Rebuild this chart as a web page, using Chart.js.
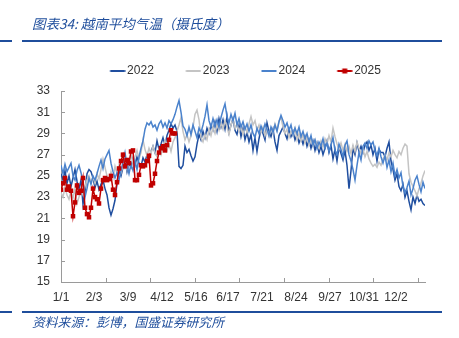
<!DOCTYPE html>
<html>
<head>
<meta charset="utf-8">
<script src="https://cdn.jsdelivr.net/npm/chart.js@4.4.0/dist/chart.umd.min.js"></script>
<style>
  html, body { margin: 0; padding: 0; background: #fff; }
  #wrap { position: relative; width: 459px; height: 338px; overflow: hidden; }
  #chart { position: absolute; left: 0; top: 0; }
  .txt { position: absolute; left: 32px; font-family: "Noto Sans CJK SC"; font-style: italic; color: #1f4e9c; white-space: nowrap; line-height: 16px; }
  #title { top: 15px; font-size: 13.5px; }
  #source { top: 314px; font-size: 12.8px; }
  .rule { position: absolute; height: 2px; background: #1f4e9c; }
</style>
</head>
<body>
<div id="wrap">
  <canvas id="chart" width="459" height="338"></canvas>
  <div id="title" class="txt">图表34: 越南平均气温（摄氏度）</div>
  <div class="rule" style="left:0;width:12px;top:40px"></div>
  <div class="rule" style="left:22px;width:420px;top:40px"></div>
  <div class="rule" style="left:0;width:12px;top:311px"></div>
  <div class="rule" style="left:22px;width:420px;top:311px"></div>
  <div id="source" class="txt">资料来源：彭博，国盛证券研究所</div>
</div>
<script>
// Dagsindeks fra 1/1, ét punkt hver 2. dag
const STEP = 2;
const tickDays = [0, 33, 67, 101, 135, 167, 201, 235, 269, 303, 335];
const tickLabels = ['1/1','2/3','3/9','4/12','5/16','6/17','7/21','8/24','9/27','10/31','12/2'];
const seriesNames = ['2022', '2023', '2024', '2025'];

// Gennemsnitstemperatur (°C)
const temp2022 = [
  25.2, 24.6, 25.5, 24.3, 25.0, 24.0, 24.8, 25.6, 24.5, 23.8, 24.6,
  22.3, 23.5, 25.2, 25.6, 25.4, 24.8, 23.9, 24.5, 23.7, 24.2,
  24.6, 23.8, 23.2, 22.0, 21.3, 21.9, 22.7, 24.3, 25.5, 25.0,
  25.8, 26.5, 25.4, 26.2, 25.8, 26.6, 26.0, 26.8, 26.2, 25.9,
  26.7, 26.3, 27.0, 26.4, 27.3, 27.8, 27.2, 28.3, 27.5, 28.0,
  28.6, 27.9, 28.8, 29.3, 29.9, 29.5, 29.8, 29.2, 25.9, 25.7,
  26.0, 27.8, 27.2, 27.5, 26.9, 26.4, 26.8, 28.0, 28.9, 28.4,
  29.2, 28.6, 29.5, 29.0, 29.8, 29.3, 30.1, 29.2, 30.4, 29.6,
  30.3, 29.4, 30.6, 29.1, 29.8, 30.4, 29.3, 28.9, 29.8, 28.7,
  29.5, 28.4, 29.1, 28.2, 28.9, 27.4, 28.6, 27.3, 28.5, 29.4,
  29.0, 28.4, 30.0, 29.2, 28.7, 29.4, 28.2, 27.4, 28.8, 29.2,
  29.6, 29.0, 28.5, 29.4, 28.7, 29.2, 28.4, 28.9, 28.1, 28.6,
  28.0, 28.7, 27.8, 28.4, 27.6, 28.3, 27.4, 28.1, 27.2, 27.8,
  27.0, 27.6, 28.3, 27.2, 27.9, 26.6, 27.5, 26.4, 27.7, 27.1,
  26.5, 27.4, 26.0, 23.8, 25.5, 27.6, 27.0, 28.1, 27.3, 27.8,
  27.2, 27.9, 28.2, 27.4, 27.9, 27.0, 27.6, 26.4, 27.5, 27.2,
  27.2, 26.8, 27.6, 28.2, 26.4, 25.6, 24.6, 25.2, 24.0, 23.6,
  24.2, 23.0, 23.6, 22.6, 21.8, 23.0, 22.4, 23.2, 22.6, 22.8, 22.4, 22.2
];
const temp2023 = [
  23.4, 23.0, 23.9, 23.2, 22.8, 23.6, 22.9, 23.8, 22.4, 23.0, 23.7,
  23.2, 24.0, 24.6, 25.0, 24.4, 24.9, 24.3, 25.2, 24.7, 25.6,
  26.6, 25.8, 25.0, 24.6, 25.4, 24.8, 25.9, 25.2, 26.0, 25.3,
  25.9, 26.4, 25.6, 26.3, 27.0, 26.2, 26.8, 27.4, 26.6, 27.2,
  28.4, 27.5, 26.9, 27.6, 27.1, 27.8, 27.2, 26.8, 27.5, 27.0,
  27.7, 28.3, 27.4, 28.0, 27.3, 28.2, 28.6, 29.2, 29.8, 30.5,
  29.2, 28.4, 28.9, 28.2, 28.8, 29.6, 30.8, 31.2, 30.3, 28.6,
  28.2, 28.9, 28.4, 29.4, 28.8, 29.6, 29.0, 29.8, 29.3, 30.0,
  29.4, 30.2, 29.6, 28.9, 29.8, 30.4, 29.5, 29.9, 29.2, 29.7,
  28.9, 29.6, 29.1, 29.9, 30.6, 29.8, 30.2, 29.3, 29.8, 29.1,
  29.6, 28.8, 29.4, 28.7, 29.5, 29.0, 29.9, 29.3, 30.2, 30.5,
  29.6, 29.0, 29.4, 28.6, 29.2, 28.8, 29.5, 28.4, 29.0, 28.3,
  28.9, 28.1, 28.7, 27.9, 28.5, 27.8, 28.4, 28.0, 27.6, 28.3,
  27.7, 28.5, 28.0, 28.8, 28.2, 29.5, 28.7, 28.0, 27.5, 28.1,
  27.4, 28.0, 27.3, 27.8, 27.1, 27.9, 27.3, 28.2, 27.6, 27.1,
  27.5, 26.8, 27.3, 26.6, 26.2, 25.9, 26.1, 25.8, 26.3, 26.0,
  26.6, 27.0, 26.5, 27.2, 26.8, 27.4, 27.0, 26.7, 27.3, 27.0,
  27.6, 28.0, 27.8, 25.2, 24.4, 24.0, 23.6, 23.1, 23.8, 24.3, 25.0, 25.5
];
const temp2024 = [
  26.0, 25.2, 26.1, 25.4, 25.8, 26.2, 25.0, 24.6, 25.5, 26.0, 25.3,
  24.4, 23.0, 23.8, 24.8, 24.2, 25.0, 24.6, 25.2, 25.9, 26.5,
  25.7, 26.6, 27.0, 27.4, 26.2, 25.4, 24.8, 25.3, 24.6, 25.5,
  26.3, 27.2, 26.0, 25.2, 26.1, 25.5, 26.4, 25.6, 26.8, 27.6,
  28.3, 29.4, 30.0, 29.8, 30.1, 29.6, 29.8, 29.3, 29.9, 30.2,
  29.6, 30.0, 29.5, 30.2, 29.9, 30.3, 30.8, 31.5, 32.1, 31.0,
  29.7, 29.4, 28.8, 29.6, 28.9, 29.8, 29.2, 28.6, 29.5, 29.1,
  29.8, 30.6, 31.7, 30.2, 29.6, 30.4, 29.7, 30.3, 29.6, 30.5,
  31.2, 31.8, 30.6, 30.0, 30.8, 30.2, 30.9, 29.8, 30.4, 29.6,
  30.1, 29.4, 29.9, 29.2, 29.8, 29.0, 28.6, 29.5, 29.0, 29.7,
  29.2, 29.9, 29.4, 28.8, 29.6, 29.1, 29.8, 29.2, 30.1, 30.7,
  30.2, 29.6, 30.0, 29.3, 29.8, 28.9, 29.5, 29.0, 29.6, 28.7,
  29.2, 28.5, 29.0, 28.2, 28.8, 27.9, 28.4, 27.6, 28.2, 27.8,
  28.5, 27.6, 28.1, 27.3, 27.9, 28.6, 27.4, 27.0, 28.0, 27.5,
  26.8, 27.9, 28.3, 27.0, 26.4, 25.6, 24.6, 26.0, 27.2, 26.5,
  27.8, 28.1, 27.6, 28.3, 27.9, 28.2, 27.4, 26.9, 27.6, 26.8,
  26.2, 26.9, 25.8, 26.5, 25.4, 26.2, 25.0, 25.6, 24.8, 25.3,
  24.0, 23.4, 23.9, 24.5, 23.2, 23.8, 24.6, 25.0, 24.2, 23.5, 24.4, 23.8
];
const temp2025 = [
  23.7, 24.3, 24.8, 23.7, 24.0, 23.6, 21.2, 22.5, 24.1, 23.4,
  23.6, 24.8, 22.0, 21.4, 21.1, 22.0, 23.8, 23.0, 22.8, 22.4,
  23.8, 24.6, 24.8, 24.6, 24.7, 25.0, 23.7, 23.2, 24.4, 25.7,
  26.4, 27.0, 25.9, 26.5, 26.2, 27.3, 27.4, 24.6, 24.6, 25.1,
  26.0, 25.9, 26.0, 26.4, 26.9, 24.1, 24.3, 25.2, 26.4, 27.2,
  27.6, 27.8, 27.4, 27.9, 28.4, 29.3, 29.0, 29.0
];

const colors = {
  y2022: '#1f4e9f',
  y2023: '#c4c4c4',
  y2024: '#4a82cc',
  y2025: '#c00000',
  axis: '#9a9a9a',
  text: '#333333'
};

const toPoints = arr => arr.map((v, i) => ({ x: i * STEP, y: v }));

// Lille ikon til legenden: linje (evt. med firkant)
function legendIcon(color, marker) {
  const c = document.createElement('canvas');
  c.width = 30; c.height = 10;
  const g = c.getContext('2d');
  g.strokeStyle = color; g.lineWidth = 2;
  g.beginPath(); g.moveTo(14.5, 5); g.lineTo(29.5, 5); g.stroke();
  if (marker) { g.fillStyle = color; g.fillRect(19.5, 2.5, 5, 5); }
  return c;
}

// Flyt legenden på plads efter layout
const legendNudge = {
  id: 'legendNudge',
  afterLayout(chart) {
    const l = chart.legend;
    l.left += 28; l.right += 28;
    l.top -= 4; l.bottom -= 4;
  }
};

// Indvendige akse-tickmarks som i Excel
const axisMarks = {
  id: 'axisMarks',
  beforeDatasetsDraw(chart) {
    const { ctx, scales: { x, y } } = chart;
    ctx.save();
    ctx.strokeStyle = colors.axis;
    ctx.lineWidth = 1;
    ctx.beginPath();
    for (let d = 0; d <= 364; d += 44.6) {
      const px = Math.round(x.getPixelForValue(d)) + 0.5;
      ctx.moveTo(px, y.bottom); ctx.lineTo(px, y.bottom - 4);
    }
    y.ticks.forEach(t => {
      const py = Math.round(y.getPixelForValue(t.value)) + 0.5;
      ctx.moveTo(x.left, py); ctx.lineTo(x.left + 4, py);
    });
    ctx.stroke();
    ctx.restore();
  }
};

const font = { family: 'Liberation Sans', size: 12 };

const ctx = document.getElementById('chart').getContext('2d');
const chart = new Chart(ctx, {
  type: 'line',
  data: {
    datasets: [
      { label: seriesNames[0], data: toPoints(temp2022), borderColor: colors.y2022, borderWidth: 1.5, pointRadius: 0, order: 4 },
      { label: seriesNames[1], data: toPoints(temp2023), borderColor: colors.y2023, borderWidth: 1.5, pointRadius: 0, order: 3 },
      { label: seriesNames[2], data: toPoints(temp2024), borderColor: colors.y2024, borderWidth: 1.5, pointRadius: 0, order: 2 },
      { label: seriesNames[3], data: toPoints(temp2025), borderColor: colors.y2025, backgroundColor: colors.y2025,
        borderWidth: 1.5, pointStyle: 'rect', pointRadius: 3.2, pointBorderWidth: 0, order: 1 }
    ]
  },
  options: {
    responsive: false,
    animation: false,
    devicePixelRatio: 1,
    layout: { padding: { top: 47, right: 34, bottom: 0, left: 0 } },
    plugins: {
      tooltip: { enabled: false },
      legend: {
        display: true,
        position: 'top',
        labels: {
          usePointStyle: true,
          pointStyleWidth: 21,
          padding: 22,
          font: font,
          color: colors.text,
          generateLabels: c => c.data.datasets.map((ds, i) => ({
            text: ds.label,
            fillStyle: ds.borderColor,
            strokeStyle: ds.borderColor,
            fontColor: colors.text,
            lineWidth: 0,
            pointStyle: legendIcon(ds.borderColor, i === 3),
            hidden: false,
            datasetIndex: i
          }))
        }
      }
    },
    scales: {
      x: {
        type: 'linear',
        min: 0,
        max: 364,
        grid: { display: false, drawTicks: false },
        border: { display: true, color: colors.axis, width: 1 },
        afterBuildTicks: s => { s.ticks = tickDays.map(v => ({ value: v })); },
        afterFit: s => { s.height = 56; },
        ticks: {
          autoSkip: false,
          maxRotation: 0,
          padding: 8,
          font: font,
          color: colors.text,
          callback: v => tickLabels[tickDays.indexOf(v)]
        }
      },
      y: {
        min: 15,
        max: 33,
        grid: { display: false, drawTicks: false },
        border: { display: true, color: colors.axis, width: 1 },
        afterFit: s => { s.width = 61; },
        ticks: { stepSize: 2, padding: 11, font: font, color: colors.text }
      }
    }
  },
  plugins: [legendNudge, axisMarks]
});
</script>
</body>
</html>
